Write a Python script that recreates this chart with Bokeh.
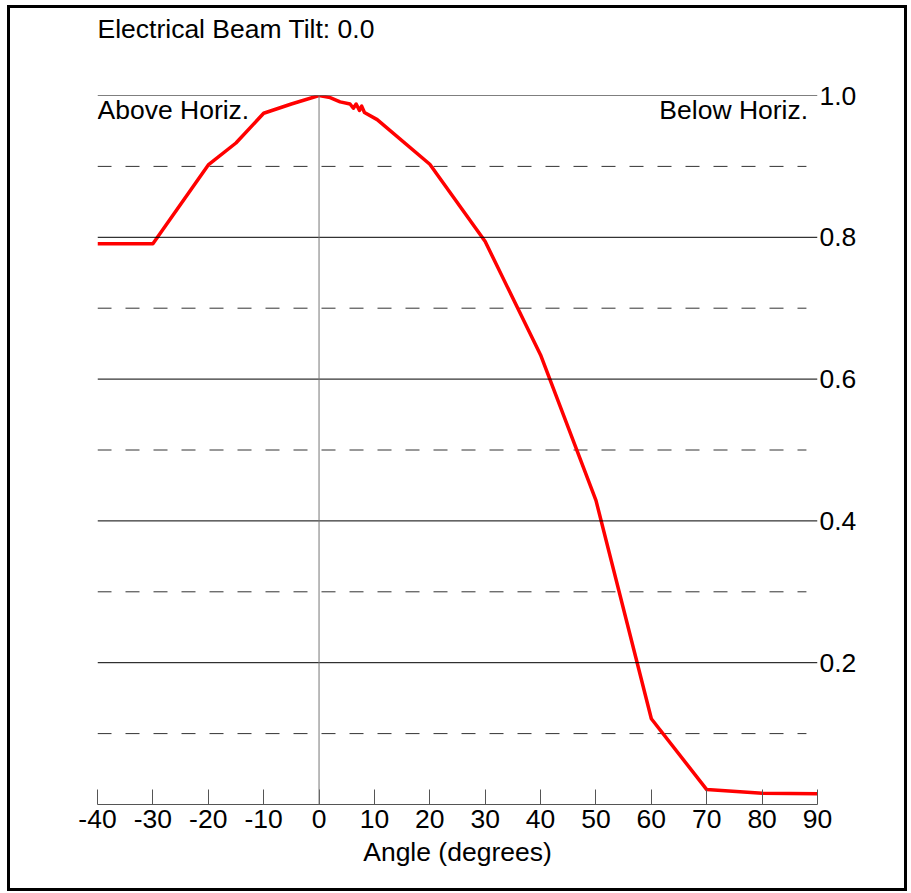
from bokeh.plotting import figure
from bokeh.models import Range1d, LinearAxis, FixedTicker, Label, Span, PrintfTickFormatter, Title
from bokeh.embed import file_html
from bokeh.resources import INLINE

# ---- data ----
angles = [-40, -30, -20, -15, -10, -5, 0, 2, 3.8, 5.6, 6.2, 6.7, 7.3, 7.7, 8.2, 10.5, 20, 30, 40, 50, 60, 70, 80, 90]
gain = [0.791, 0.791, 0.902, 0.933, 0.975, 0.988, 1.0, 0.997, 0.991, 0.988, 0.982, 0.988, 0.979, 0.985, 0.976, 0.966,
        0.903, 0.794, 0.634, 0.429, 0.121, 0.021, 0.016, 0.015]
x_ticks = [-40, -30, -20, -10, 0, 10, 20, 30, 40, 50, 60, 70, 80, 90]
y_major = [0.2, 0.4, 0.6, 0.8, 1.0]
y_minor = [0.1, 0.3, 0.5, 0.7, 0.9]
title_text = "Electrical Beam Tilt: 0.0"
left_note = "Above Horiz."
right_note = "Below Horiz."
x_label = "Angle (degrees)"

FONT = "Liberation Sans"
FS = "26.5px"

p = figure(frame_width=720, frame_height=709,
           x_range=Range1d(-40, 90), y_range=Range1d(0, 1.0),
           output_backend="svg", toolbar_location=None,
           x_axis_location=None, y_axis_location=None,
           min_border_left=87, min_border_right=87, min_border_top=87, min_border_bottom=84)
p.styles = {"border": "3px solid black", "margin-left": "7px", "margin-top": "5px"}
p.outline_line_color = None
p.background_fill_color = "white"
p.border_fill_color = "white"
p.xgrid.visible = False
p.ygrid.visible = False
p.title = None

# spacer panel between frame and title, then the title itself
p.add_layout(Title(text=" ", text_font=FONT, text_font_size=FS, standoff=20), "above")
p.add_layout(Title(text=title_text, align="left", text_font=FONT, text_font_size=FS,
                   text_font_style="normal", text_color="black", standoff=0), "above")

# bottom axis
xa = LinearAxis(ticker=FixedTicker(ticks=x_ticks), formatter=PrintfTickFormatter(format="%d"))
xa.axis_line_color = "#555555"
xa.major_tick_line_color = "#555555"
xa.major_tick_in = 15
xa.major_tick_out = 0
xa.minor_tick_line_color = None
xa.major_label_text_font = FONT
xa.major_label_text_font_size = FS
xa.major_label_text_color = "black"
xa.major_label_standoff = 5
xa.axis_label = x_label
xa.axis_label_text_font = FONT
xa.axis_label_text_font_size = FS
xa.axis_label_text_font_style = "normal"
xa.axis_label_text_color = "black"
xa.axis_label_standoff = 6
p.add_layout(xa, "below")

# right axis (labels only)
ya = LinearAxis(ticker=FixedTicker(ticks=y_major), formatter=PrintfTickFormatter(format="%.1f"))
ya.axis_line_color = None
ya.major_tick_line_color = None
ya.major_tick_in = 0
ya.major_tick_out = 0
ya.minor_tick_line_color = None
ya.major_label_text_font = FONT
ya.major_label_text_font_size = FS
ya.major_label_text_color = "black"
ya.major_label_standoff = 2
p.add_layout(ya, "right")

# solid horizontal grid lines at major levels
for lv in y_major:
    p.add_layout(Span(location=lv, dimension="width", line_color="black", line_width=1))

# dashed lines at intermediate levels
p.segment(x0=[-40] * len(y_minor), x1=[88] * len(y_minor), y0=y_minor, y1=y_minor,
          line_color="#333333", line_width=1, line_dash="14 14")

# vertical line at 0 degrees
p.add_layout(Span(location=0, dimension="height", line_color="#777777", line_width=1))

# pattern
p.line(angles, gain, line_color="red", line_width=3.5, line_join="round")

p.add_layout(Label(x=-40, y=0.979, text=left_note, text_font=FONT, text_font_size=FS,
                   text_baseline="middle", text_align="left", text_color="black"))
p.add_layout(Label(x=88.3, y=0.979, text=right_note, text_font=FONT, text_font_size=FS,
                   text_baseline="middle", text_align="right", text_color="black"))

open("out.html", "w").write(file_html(p, INLINE))
